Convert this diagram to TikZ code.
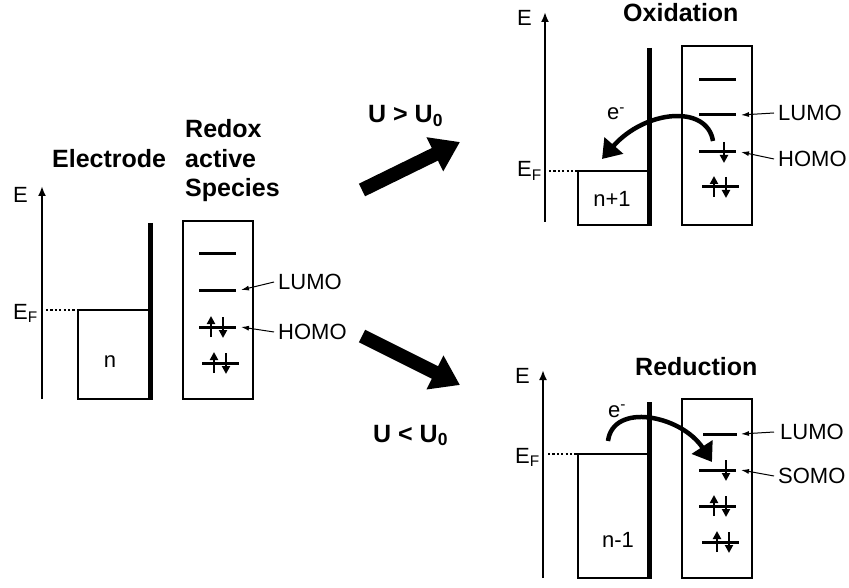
\documentclass[tikz,border=0pt]{standalone}
\usepackage{fontspec}
\setmainfont{Liberation Sans}
\usetikzlibrary{arrows.meta}

\begin{document}
\begin{tikzpicture}[x=1pt, y=-1pt,
  lbl/.style={font=\fontsize{22}{25}\selectfont, inner sep=0pt},
  ttl/.style={font=\fontsize{25}{29}\selectfont\bfseries, inner sep=0pt, anchor=base west},
  axis/.style={line width=2.8pt, -{Latex[length=10pt, width=8pt]}},
  wall/.style={line width=5pt},
  band/.style={line width=2.7pt},
  level/.style={line width=3pt},
  spin/.style={line width=2.4pt, -{Triangle[length=8pt, width=8pt]}},
  ptr/.style={line width=1pt, -{Latex[length=8pt, width=5pt]}},
  fermi/.style={line width=2.8pt, dash pattern=on 2.2pt off 2.2pt},
  bigarr/.style={line width=14pt, -{Triangle[length=28pt, width=36pt]}},
  hop/.style={line width=4.5pt, -{Triangle[length=18pt, width=24pt]}}
]
\useasboundingbox (0,0) rectangle (849,588);

% left: electrode and species before the step
\node[ttl] (electrode) at (52,168) {Electrode};
\node[ttl] (redox) at (185,138) {Redox};
\node[ttl] (active) at (185,168) {active};
\node[ttl] (species) at (185,197) {Species};
\node[lbl, anchor=base west] (eL) at (13,203) {E};
\node[lbl, anchor=base west] (efL) at (13,319) {E\textsubscript{F}};
\draw[axis] (42,399) -- (42,186);
\draw[fermi] (46,310) -- (77,310);
\draw[band] (78,310) rectangle (149,399);
\draw[wall] (150,223) -- (150,400);
\node[lbl] (nL) at (110,362) {n};
\draw[band] (183,221) rectangle (253,399);

% top right: oxidation
\node[ttl] (oxi) at (623,22) {Oxidation};
\node[lbl, anchor=base west] (eO) at (517,26) {E};
\node[lbl, anchor=base west] (efO) at (517,177) {E\textsubscript{F}};
\draw[axis] (545,222) -- (545,12);
\draw[fermi] (549,171) -- (577,171);
\draw[band] (578,171) rectangle (649,225);
\draw[wall] (649,48) -- (649,226);
\node[lbl] (nO) at (612,199) {n+1};
\draw[band] (682,46) rectangle (752,225);

% bottom right: reduction
\node[ttl] (red) at (635,375) {Reduction};
\node[lbl, anchor=base west] (eR) at (515,383) {E};
\node[lbl, anchor=base west] (efR) at (515,463) {E\textsubscript{F}};
\draw[axis] (543,578) -- (543,370);
\draw[fermi] (548,454) -- (577,454);
\draw[band] (578,454) rectangle (649,578);
\draw[wall] (649,402) -- (649,579);
\node[lbl] (nR) at (618,540) {n-1};
\draw[band] (682,399) rectangle (752,578);

% orbital levels and electrons
\foreach \xa/\xb/\y in {199/236/254, 199/236/290, 199/236/327, 202/239/363,
                        699/736/80, 699/736/115, 699/736/152, 702/739/187,
                        703/737/434, 699/736/470, 699/736/506, 702/739/542}
  \draw[level] (\xa,\y) -- (\xb,\y);
\foreach \x/\y in {211/327, 214/363, 714/187, 714/506, 717/542} {
  \draw[spin] (\x,\y+10) -- (\x,\y-11);
  \draw[spin] (\x+12,\y-10) -- (\x+12,\y+11);
}
\foreach \x/\y in {724/152, 726/470}
  \draw[spin] (\x,\y-10) -- (\x,\y+11);

% orbital names
\node[lbl, anchor=west] (lumoL) at (278,282) {LUMO};
\node[lbl, anchor=west] (homoL) at (278,332) {HOMO};
\node[lbl, anchor=west] (lumoO) at (778,113) {LUMO};
\node[lbl, anchor=west] (homoO) at (778,159) {HOMO};
\node[lbl, anchor=west] (lumoR) at (780,432) {LUMO};
\node[lbl, anchor=west] (somoR) at (778,476) {SOMO};
\coordinate (lvlLl) at (241,290);
\coordinate (lvlLh) at (241,327);
\coordinate (lvlOl) at (741,115);
\coordinate (lvlOh) at (741,152);
\coordinate (lvlRl) at (741,434);
\coordinate (lvlRs) at (741,470);
\draw[ptr] ([xshift=-4pt]lumoL.west) -- (lvlLl);
\draw[ptr] ([xshift=-4pt]homoL.west) -- (lvlLh);
\draw[ptr] ([xshift=-4pt]lumoO.west) -- (lvlOl);
\draw[ptr] ([xshift=-4pt]homoO.west) -- (lvlOh);
\draw[ptr] ([xshift=-6pt]lumoR.west) -- (lvlRl);
\draw[ptr] ([xshift=-4pt]somoR.west) -- (lvlRs);

% electron transfer
\node[lbl, anchor=base west] (elO) at (607,120) {e\textsuperscript{-}};
\node[lbl, anchor=base west] (elR) at (608,417) {e\textsuperscript{-}};
\coordinate (hopOs) at (713,141);
\coordinate (hopOe) at (602,159);
\coordinate (hopRs) at (608,441);
\coordinate (hopRe) at (712,462);
\draw[hop] (hopOs) .. controls (707,104) and (645,110) .. (hopOe);
\draw[hop] (hopRs) .. controls (613,402) and (681,415) .. (hopRe);

% potential step
\node[ttl] (uhi) at (368,123) {U > U\textsubscript{0}};
\node[ttl] (ulo) at (373,442) {U < U\textsubscript{0}};
\coordinate (upT) at (362,190);
\coordinate (upH) at (460,142);
\coordinate (dnT) at (362,336);
\coordinate (dnH) at (460,385);
\draw[bigarr] (upT) -- (upH);
\draw[bigarr] (dnT) -- (dnH);
\end{tikzpicture}
\end{document}
